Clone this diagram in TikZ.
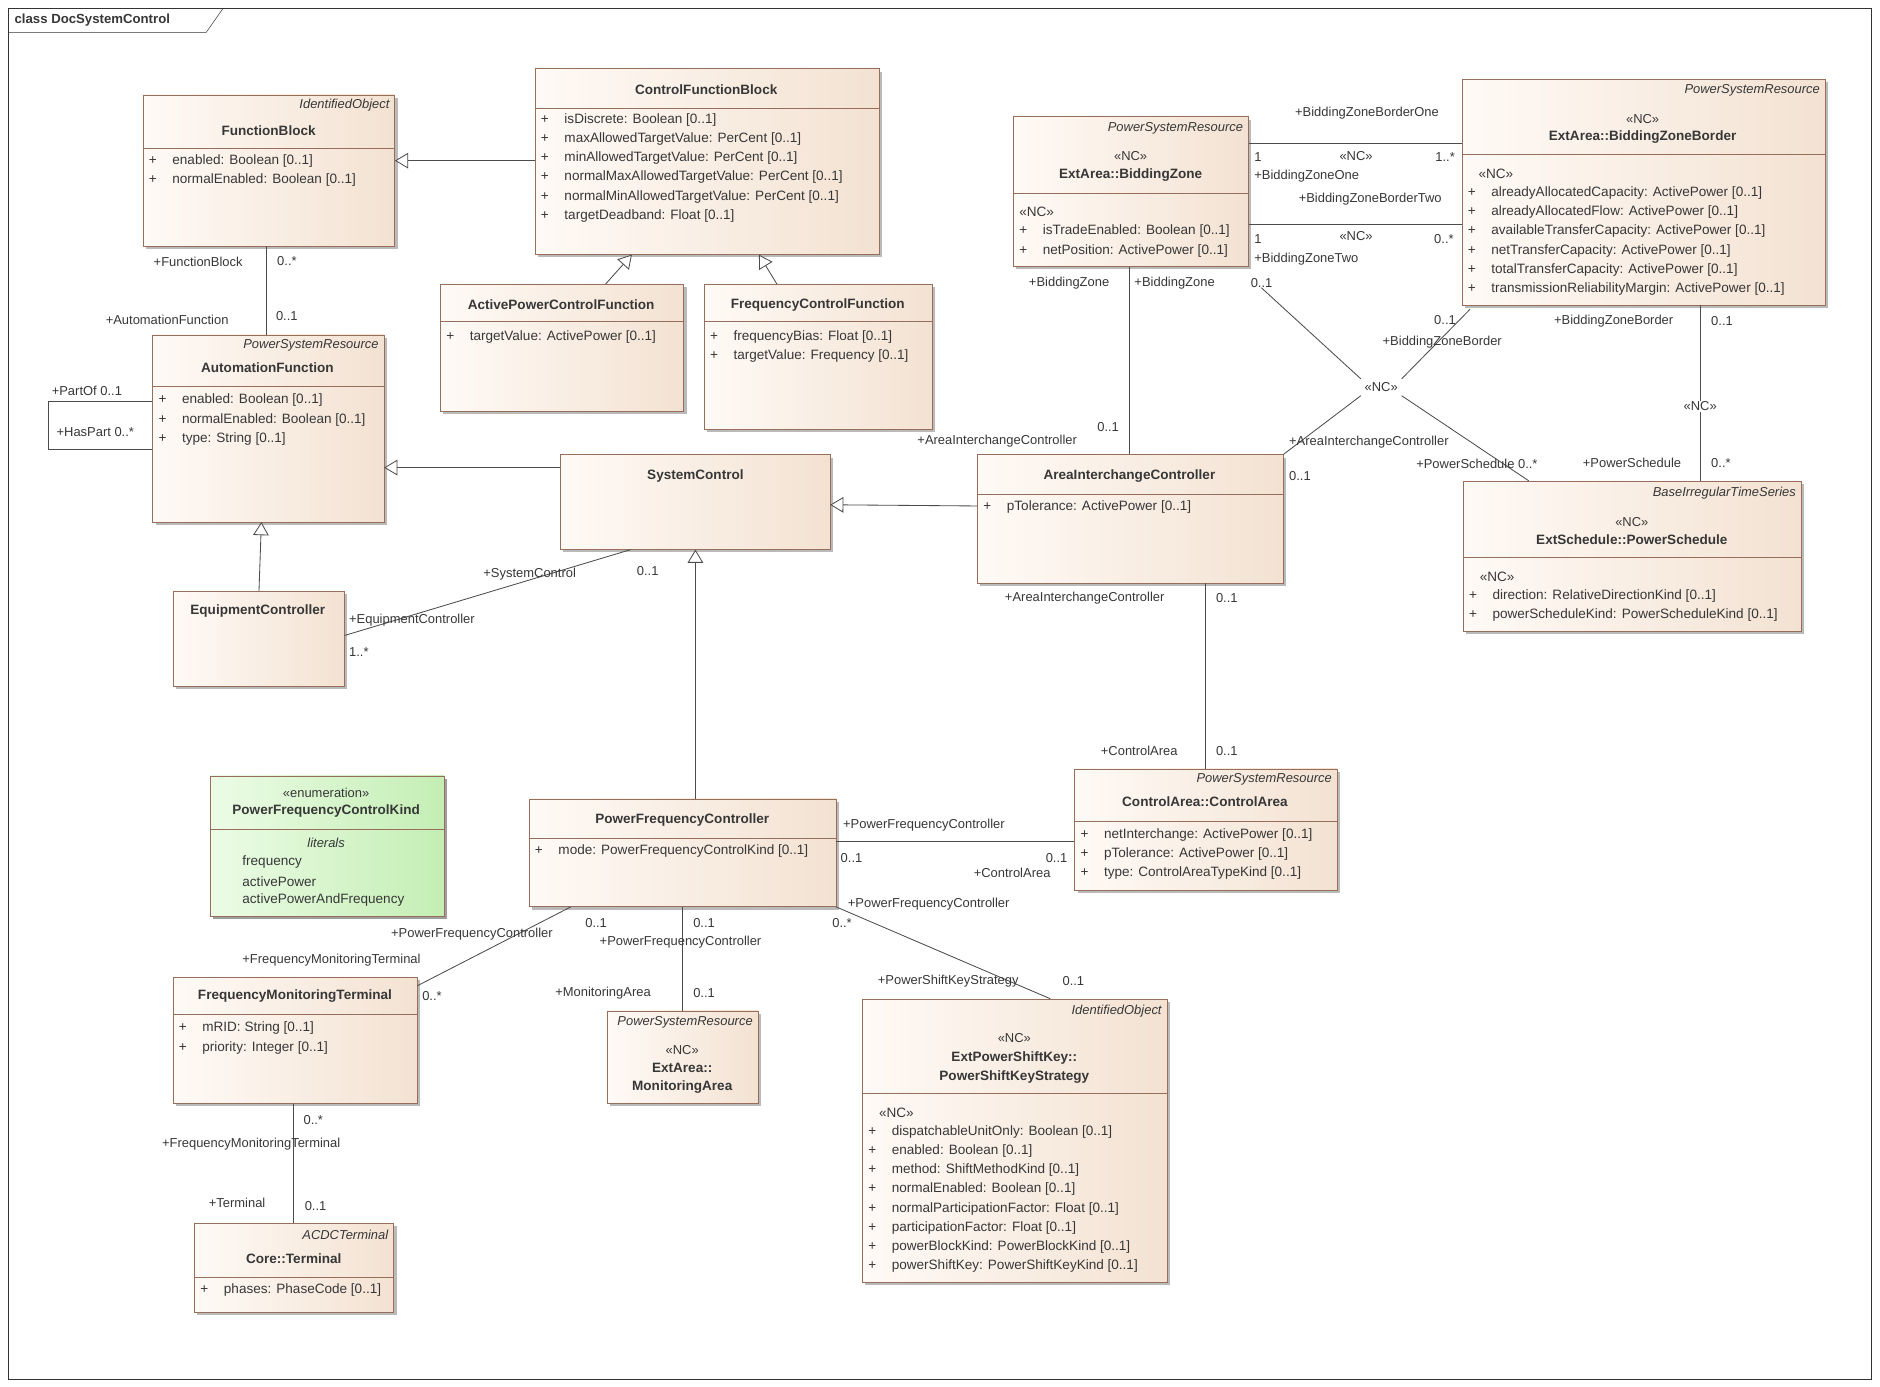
\documentclass[tikz,border=0pt]{standalone}
\usepackage{fontspec}
\setmainfont{Liberation Sans}
\usetikzlibrary{arrows.meta,shadows}
\definecolor{boxc}{RGB}{243,226,210}
\definecolor{boxl}{RGB}{255,250,246}
\definecolor{bord}{RGB}{150,110,90}
\definecolor{txt}{RGB}{55,55,55}
\definecolor{enl}{RGB}{236,252,230}
\definecolor{enr}{RGB}{196,238,180}
\newcommand\umlbox[6][]{\node[umlbox,#1,anchor=north west,minimum width={#5pt-#3pt},minimum height={#6pt-#4pt}] (#2) at (#3,#4) {};}
\newcommand\sepl[3]{\draw[bord] (#1,#3) -- (#2,#3);}
\begin{document}
\begin{tikzpicture}[x=1pt,y=-1pt,font=\fontsize{11.3}{13}\selectfont,text=txt,
 umlbox/.style={draw=bord,left color=boxl,right color=boxc,inner sep=0pt,drop shadow={shadow xshift=2.5pt,shadow yshift=-2.5pt,fill=black!45,opacity=.6}},
 enumbox/.style={draw=bord,left color=enl,right color=enr,inner sep=0pt,drop shadow={shadow xshift=2.5pt,shadow yshift=-2.5pt,fill=black!45,opacity=.6}},
 nm/.style={font=\fontsize{11.3}{13}\selectfont\bfseries,inner sep=0pt,align=center},
 st/.style={font=\fontsize{10.8}{13}\selectfont\itshape,anchor=east,inner sep=0pt},
 attr/.style={anchor=west,inner sep=0pt},
 lb/.style={anchor=west,inner sep=0pt,font=\fontsize{10.8}{13}\selectfont},
 assoc/.style={draw=black!70,line width=0.7pt},
 gen/.style={draw=black!70,line width=0.7pt,-{Triangle[open,length=11pt,width=13pt,fill=white]}}]
\useasboundingbox (0,0) rectangle (1568,1156);
\fill[white] (0,0) rectangle (1568,1156);
% frame
\draw[black!80] (7,7) rectangle (1561,1150);
\draw[black!80] (7,27) -- (172,27) -- (186,7);
\node[attr,font=\fontsize{11}{13}\selectfont\bfseries] (title) at (12,17) {class DocSystemControl};

% FunctionBlock
\umlbox{fb}{119}{79}{329}{205}
\node[st] at (325,88) {IdentifiedObject};
\node[nm] at (224,109) {FunctionBlock};
\sepl{119}{329}{124}
\node[attr] at (124,134) {+\hspace{13pt}enabled: Boolean [0..1]};
\node[attr] at (124,150) {+\hspace{13pt}normalEnabled: Boolean [0..1]};

% ControlFunctionBlock
\umlbox{cfb}{446}{57}{733}{212}
\node[nm] at (589,75) {ControlFunctionBlock};
\sepl{446}{733}{90}
\foreach \t [count=\i from 0] in {isDiscrete: Boolean [0..1],maxAllowedTargetValue: PerCent [0..1],minAllowedTargetValue: PerCent [0..1],normalMaxAllowedTargetValue: PerCent [0..1],normalMinAllowedTargetValue: PerCent [0..1],targetDeadband: Float [0..1]}
  \node[attr] at (451,100+16*\i) {+\hspace{13pt}\t};

% ActivePowerControlFunction
\umlbox{apcf}{367}{237}{570}{343}
\node[nm] at (468,254) {ActivePowerControlFunction};
\sepl{367}{570}{268}
\node[attr] at (372,281) {+\hspace{13pt}targetValue: ActivePower [0..1]};

% FrequencyControlFunction
\umlbox{fcf}{587}{237}{777}{358}
\node[nm] at (682,254) {FrequencyControlFunction};
\sepl{587}{777}{268}
\node[attr] at (592,281) {+\hspace{13pt}frequencyBias: Float [0..1]};
\node[attr] at (592,297) {+\hspace{13pt}targetValue: Frequency [0..1]};

% AutomationFunction
\umlbox{af}{127}{279}{320}{435}
\node[st] at (316,288) {PowerSystemResource};
\node[nm] at (223,307) {AutomationFunction};
\sepl{127}{320}{322}
\node[attr] at (132,334) {+\hspace{13pt}enabled: Boolean [0..1]};
\node[attr] at (132,350) {+\hspace{13pt}normalEnabled: Boolean [0..1]};
\node[attr] at (132,366) {+\hspace{13pt}type: String [0..1]};

% SystemControl
\umlbox{sc}{467}{379}{692}{458}
\node[nm] at (580,397) {SystemControl};

% EquipmentController
\umlbox{ec}{144}{493}{287}{572}
\node[nm] at (215,510) {EquipmentController};

% BiddingZone
\umlbox{bz}{845}{97}{1041}{222}
\node[st] at (1037,107) {PowerSystemResource};
\node[lb,anchor=center] at (943,130) {«NC»};
\node[nm] at (943,146) {ExtArea::BiddingZone};
\sepl{845}{1041}{161}
\node[attr] at (850,177) {«NC»};
\node[attr] at (850,193) {+\hspace{13pt}isTradeEnabled: Boolean [0..1]};
\node[attr] at (850,209) {+\hspace{13pt}netPosition: ActivePower [0..1]};

% BiddingZoneBorder
\umlbox{bzb}{1219}{66}{1522}{254}
\node[st] at (1518,75) {PowerSystemResource};
\node[lb,anchor=center] at (1370,99) {«NC»};
\node[nm] at (1370,114) {ExtArea::BiddingZoneBorder};
\sepl{1219}{1522}{129}
\node[attr] at (1233,145) {«NC»};
\foreach \t [count=\i from 0] in {alreadyAllocatedCapacity: ActivePower [0..1],alreadyAllocatedFlow: ActivePower [0..1],availableTransferCapacity: ActivePower [0..1],netTransferCapacity: ActivePower [0..1],totalTransferCapacity: ActivePower [0..1],transmissionReliabilityMargin: ActivePower [0..1]}
  \node[attr] at (1224,161+16*\i) {+\hspace{13pt}\t};

% AreaInterchangeController
\umlbox{aic}{815}{379}{1070}{486}
\node[nm] at (942,397) {AreaInterchangeController};
\sepl{815}{1070}{412}
\node[attr] at (820,423) {+\hspace{13pt}pTolerance: ActivePower [0..1]};

% PowerSchedule
\umlbox{ps}{1220}{401}{1502}{526}
\node[st] at (1498,411) {BaseIrregularTimeSeries};
\node[lb,anchor=center] at (1361,435) {«NC»};
\node[nm] at (1361,450) {ExtSchedule::PowerSchedule};
\sepl{1220}{1502}{465}
\node[attr] at (1234,481) {«NC»};
\node[attr] at (1225,497) {+\hspace{13pt}direction: RelativeDirectionKind [0..1]};
\node[attr] at (1225,513) {+\hspace{13pt}powerScheduleKind: PowerScheduleKind [0..1]};

% ControlArea
\umlbox{ca}{896}{641}{1115}{742}
\node[st] at (1111,650) {PowerSystemResource};
\node[nm] at (1005,669) {ControlArea::ControlArea};
\sepl{896}{1115}{685}
\node[attr] at (901,696) {+\hspace{13pt}netInterchange: ActivePower [0..1]};
\node[attr] at (901,712) {+\hspace{13pt}pTolerance: ActivePower [0..1]};
\node[attr] at (901,728) {+\hspace{13pt}type: ControlAreaTypeKind [0..1]};

% Enumeration
\umlbox[enumbox]{pfck}{175}{647}{370}{764}
\node[lb,anchor=center] at (272,661) {«enumeration»};
\node[nm] at (272,676) {PowerFrequencyControlKind};
\sepl{175}{370}{692}
\node[lb,anchor=center,font=\fontsize{10.8}{13}\selectfont\itshape] at (272,703) {literals};
\node[attr] at (202,719) {frequency};
\node[attr] at (202,735) {activePower};
\node[attr] at (202,751) {activePowerAndFrequency};

% PowerFrequencyController
\umlbox{pfc}{441}{666}{697}{756}
\node[nm] at (569,684) {PowerFrequencyController};
\sepl{441}{697}{699}
\node[attr] at (446,710) {+\hspace{13pt}mode: PowerFrequencyControlKind [0..1]};

% FrequencyMonitoringTerminal
\umlbox{fmt}{144}{815}{348}{920}
\node[nm] at (246,831) {FrequencyMonitoringTerminal};
\sepl{144}{348}{846}
\node[attr] at (149,857) {+\hspace{13pt}mRID: String [0..1]};
\node[attr] at (149,874) {+\hspace{13pt}priority: Integer [0..1]};

% MonitoringArea
\umlbox{ma}{506}{843}{632}{920}
\node[st] at (628,853) {PowerSystemResource};
\node[lb,anchor=center] at (569,876) {«NC»};
\node[nm] at (569,891) {ExtArea::};
\node[nm] at (569,907) {MonitoringArea};

% PowerShiftKeyStrategy
\umlbox{psk}{719}{833}{973}{1069}
\node[st] at (969,843) {IdentifiedObject};
\node[lb,anchor=center] at (846,866) {«NC»};
\node[nm] at (846,882) {ExtPowerShiftKey::};
\node[nm] at (846,898) {PowerShiftKeyStrategy};
\sepl{719}{973}{912}
\node[attr] at (733,928) {«NC»};
\foreach \t [count=\i from 0] in {dispatchableUnitOnly: Boolean [0..1],enabled: Boolean [0..1],method: ShiftMethodKind [0..1],normalEnabled: Boolean [0..1],normalParticipationFactor: Float [0..1],participationFactor: Float [0..1],powerBlockKind: PowerBlockKind [0..1],powerShiftKey: PowerShiftKeyKind [0..1]}
  \node[attr] at (724,944+16*\i) {+\hspace{13pt}\t};

% Terminal
\umlbox{term}{162}{1020}{328}{1094}
\node[st] at (324,1030) {ACDCTerminal};
\node[nm] at (245,1050) {Core::Terminal};
\sepl{162}{328}{1065}
\node[attr] at (167,1076) {+\hspace{13pt}phases: PhaseCode [0..1]};

% ---- generalizations
\draw[gen] (cfb.west |- 0,134) -- (fb.east |- 0,134);
\draw[gen] (apcf.north -| 505,0) -- (cfb.south -| 527,0);
\draw[gen] (fcf.north -| 648,0) -- (cfb.south -| 633,0);
\draw[gen] (sc.west |- 0,390) -- (af.east |- 0,390);
\draw[gen] (ec.north -| 216,0) -- (af.south -| 218,0);
\draw[gen] (aic.west |- 0,422) -- (sc.east |- 0,421);
\draw[gen] (pfc.north -| 580,0) -- (sc.south -| 580,0);

% ---- associations
\draw[assoc] (fb.south -| 222,0) -- (af.north -| 222,0);
\node[lb] at (128,218) {+FunctionBlock};
\node[lb] at (231,218) {0..*};
\node[lb] at (88,267) {+AutomationFunction};
\node[lb] at (230,264) {0..1};

\draw[assoc] (af.west |- 0,335) -- (40,335) -- (40,375) -- (af.west |- 0,375);
\node[lb] at (43,326) {+PartOf 0..1};
\node[lb] at (47,360) {+HasPart 0..*};

\draw[assoc] (sc.south -| 526,0) -- (ec.east |- 0,530);
\node[lb] at (403,479) {+SystemControl};
\node[lb] at (531,476) {0..1};
\node[lb] at (291,517) {+EquipmentController};
\node[lb] at (291,544) {1..*};

\draw[assoc] (bz.south -| 942,0) -- (aic.north -| 942,0);
\node[lb] at (858,236) {+BiddingZone};
\node[lb] at (946,236) {+BiddingZone};
\node[lb] at (915,356) {0..1};
\node[lb] at (765,368) {+AreaInterchangeController};

\draw[assoc] (bz.east |- 0,120) -- (bzb.west |- 0,120);
\node[lb] at (1080,94) {+BiddingZoneBorderOne};
\node[lb] at (1046,131) {1};
\node[lb] at (1117,130) {«NC»};
\node[lb] at (1197,131) {1..*};
\node[lb] at (1046,147) {+BiddingZoneOne};
\draw[assoc] (bz.east |- 0,187) -- (bzb.west |- 0,187);
\node[lb] at (1083,166) {+BiddingZoneBorderTwo};
\node[lb] at (1046,199) {1};
\node[lb] at (1117,197) {«NC»};
\node[lb] at (1196,199) {0..*};
\node[lb] at (1046,216) {+BiddingZoneTwo};

\node[lb,anchor=center,inner sep=3pt] (nc) at (1152,323) {«NC»};
\draw[assoc] (1052,240) -- (nc.north west);
\draw[assoc] (1226,258) -- (nc.north east);
\draw[assoc] (nc.south west) -- (aic.north east);
\draw[assoc] (nc.south east) -- (ps.north -| 1275,0);
\node[lb] at (1043,236) {0..1};
\node[lb] at (1196,267) {0..1};
\node[lb] at (1153,285) {+BiddingZoneBorder};
\node[lb] at (1075,369) {+AreaInterchangeController};
\node[lb] at (1075,397) {0..1};
\node[lb] at (1181,387) {+PowerSchedule 0..*};

\draw[assoc] (bzb.south -| 1418,0) -- (ps.north -| 1418,0);
\node[lb,anchor=center,fill=white,inner sep=1pt] at (1418,339) {«NC»};
\node[lb] at (1296,268) {+BiddingZoneBorder};
\node[lb] at (1427,268) {0..1};
\node[lb] at (1320,386) {+PowerSchedule};
\node[lb] at (1427,386) {0..*};

\draw[assoc] (aic.south -| 1005,0) -- (ca.north -| 1005,0);
\node[lb] at (838,499) {+AreaInterchangeController};
\node[lb] at (1014,499) {0..1};
\node[lb] at (918,626) {+ControlArea};
\node[lb] at (1014,626) {0..1};

\draw[assoc] (pfc.east |- 0,702) -- (ca.west |- 0,702);
\node[lb] at (703,688) {+PowerFrequencyController};
\node[lb] at (701,716) {0..1};
\node[lb] at (872,716) {0..1};
\node[lb] at (812,728) {+ControlArea};

\draw[assoc] (pfc.south -| 476,0) -- (fmt.east |- 0,822);
\node[lb] at (326,779) {+PowerFrequencyController};
\node[lb] at (488,770) {0..1};
\node[lb] at (202,801) {+FrequencyMonitoringTerminal};
\node[lb] at (352,831) {0..*};

\draw[assoc] (pfc.south -| 569,0) -- (ma.north -| 569,0);
\node[lb] at (578,770) {0..1};
\node[lb] at (500,786) {+PowerFrequencyController};
\node[lb] at (463,828) {+MonitoringArea};
\node[lb] at (578,828) {0..1};

\draw[assoc] (pfc.south east) -- (psk.north -| 876,0);
\node[lb] at (707,754) {+PowerFrequencyController};
\node[lb] at (694,770) {0..*};
\node[lb] at (732,818) {+PowerShiftKeyStrategy};
\node[lb] at (886,818) {0..1};

\draw[assoc] (fmt.south -| 245,0) -- (term.north -| 245,0);
\node[lb] at (253,934) {0..*};
\node[lb] at (135,954) {+FrequencyMonitoringTerminal};
\node[lb] at (174,1003) {+Terminal};
\node[lb] at (254,1006) {0..1};
\end{tikzpicture}
\end{document}
